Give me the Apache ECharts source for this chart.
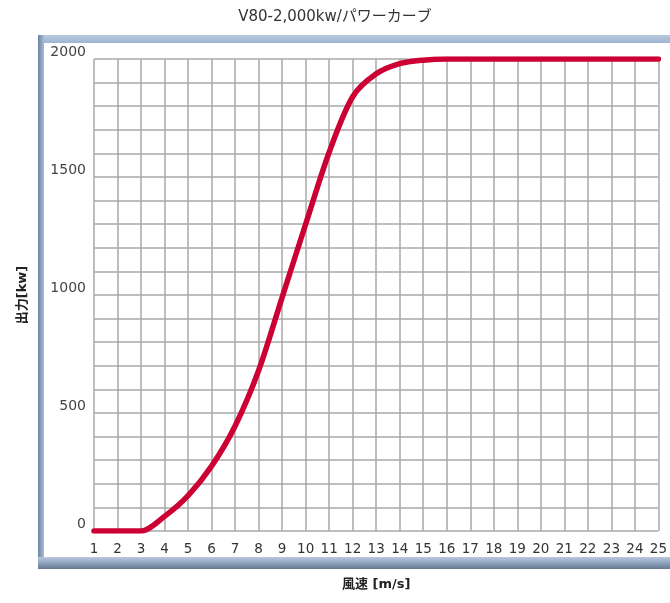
<!DOCTYPE html>
<html><head><meta charset="utf-8">
<script src="https://cdn.jsdelivr.net/npm/echarts@6/dist/echarts.min.js"></script>
<style>html,body{margin:0;padding:0;background:#fff}#c{width:670px;height:603px}</style>
</head><body><div id="c"></div>
<script>
const titleText = 'V80-2,000kw/パワーカーブ';
const xName = '風速 [m/s]';
const yName = '出力[kw]';
const windSpeed = [1,2,3,4,5,6,7,8,9,10,11,12,13,14,15,16,17,18,19,20,21,22,23,24,25];
const power = [0,0,0,62,150,275,445,680,990,1300,1605,1840,1937,1980,1995,2000,2000,2000,2000,2000,2000,2000,2000,2000,2000];
const yTicks = [0,500,1000,1500,2000];

const chart = echarts.init(document.getElementById('c'));
const font = '"DejaVu Sans","Noto Sans CJK JP",sans-serif';
chart.setOption({
  animation: false,
  backgroundColor: '#fff',
  title: {text: titleText, left: 'center', top: 5,
    textStyle: {fontFamily: font, fontSize: 15, fontWeight: 'normal', color: '#333'}},
  graphic: [
    {type: 'rect', z: -10, shape: {x: 38, y: 35, width: 650, height: 534}, style: {fill: '#fff'}},
    {type: 'rect', z: -9, shape: {x: 38, y: 35, width: 650, height: 8},
      style: {fill: new echarts.graphic.LinearGradient(0,0,0,1,[{offset:0,color:'#b9c9df'},{offset:1,color:'#9fb4d2'}])}},
    {type: 'rect', z: -9, shape: {x: 38, y: 35, width: 6, height: 534},
      style: {fill: new echarts.graphic.LinearGradient(0,0,1,0,[{offset:0,color:'#6f829f'},{offset:1,color:'#a9bcd7'}])}},
    {type: 'rect', z: -9, shape: {x: 38, y: 557, width: 650, height: 12},
      style: {fill: new echarts.graphic.LinearGradient(0,0,0,1,[{offset:0,color:'#b8c8de'},{offset:0.5,color:'#8fa3bf'},{offset:1,color:'#66778f'}])}}
  ],
  grid: {left: 94, right: 9, top: 59, bottom: 72},
  xAxis: {
    type: 'value', min: 1, max: 25, interval: 1,
    name: xName, nameLocation: 'middle', nameGap: 47,
    nameTextStyle: {fontFamily: font, fontSize: 13, color: '#222', fontWeight: 'bold'},
    axisLine: {show: false}, axisTick: {show: false},
    axisLabel: {fontFamily: font, fontSize: 13.5, color: '#333', margin: 12},
    splitLine: {show: true, lineStyle: {color: '#a8a8a8', width: 1.5}}
  },
  yAxis: {
    type: 'value', min: 0, max: 2000, interval: 100,
    name: yName, nameLocation: 'middle', nameGap: 65, nameRotate: 90,
    nameTextStyle: {fontFamily: font, fontSize: 13, color: '#222', fontWeight: 'bold'},
    axisLine: {show: false}, axisTick: {show: false},
    axisLabel: {fontFamily: font, fontSize: 14, color: '#444', margin: 8, verticalAlign: 'bottom',
      formatter: v => yTicks.includes(v) ? String(v) : ''},
    splitLine: {show: true, lineStyle: {color: '#a8a8a8', width: 1.5}}
  },
  series: [{
    type: 'line',
    data: windSpeed.map((x, i) => [x, power[i]]),
    smooth: 0.3,
    showSymbol: false,
    lineStyle: {color: '#cc0033', width: 5.5, cap: 'round'}
  }]
});
</script></body></html>
